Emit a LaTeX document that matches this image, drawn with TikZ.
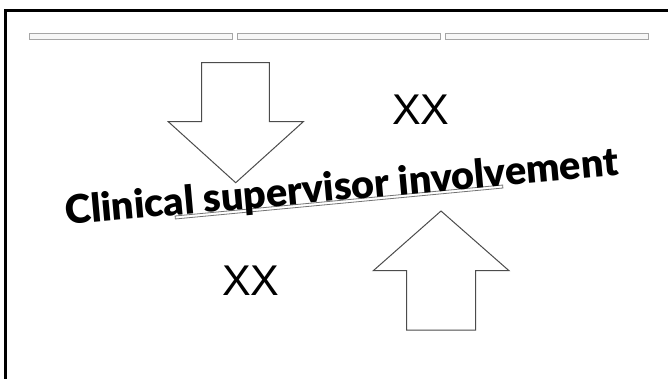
\documentclass[tikz,border=0pt]{standalone}
\usepackage{fontspec}
\setmainfont{Liberation Sans}
\newfontfamily\headfont{Lato}[BoldFont={Lato Black}]
\usepackage{tikz}
\usetikzlibrary{positioning}

\begin{document}
\begin{tikzpicture}[
    x=1pt, y=-1pt,
    bar/.style={rectangle, draw=black!35, fill=black!3, line width=0.8pt, minimum width=203pt, minimum height=6pt, inner sep=0pt},
    bigarrow/.style={draw=black!70, line width=1pt, fill=white, line join=miter},
    xxmark/.style={font=\fontsize{43}{43}\selectfont, inner sep=0pt, anchor=base west},
]
\useasboundingbox (0,0) rectangle (668,379);
\clip (0,0) rectangle (668,379);
\fill[white] (0,0) rectangle (668,379);
\draw[line width=3pt] (5.5,10.5) rectangle (700,400);
% header bars
\node[bar] (bar1) at (130.7,36.5) {};
\node[bar, right=4.5pt of bar1] (bar2) {};
\node[bar, right=4.5pt of bar2] (bar3) {};
% arrows
\draw[bigarrow] (201.7,62.7) -- (269.3,62.7) -- (269.3,121.7) -- (303.3,121.7)
    -- (235.7,182.7) -- (168.3,121.7) -- (201.7,121.7) -- cycle;
\draw[bigarrow] (406.7,330) -- (475.7,330) -- (475.7,270.7) -- (509,270.7)
    -- (441,211) -- (373.3,270.7) -- (406.7,270.7) -- cycle;
% labels
\node[xxmark] (xxtop) at (392,125) {XX};
\node[xxmark] (xxbot) at (222,295) {XX};
\node[draw=black!55, line width=0.8pt, fill=white, minimum width=329pt, minimum height=3pt,
    inner sep=0pt, rotate=5.4] (strip) at (339,202) {};
\node[font=\headfont\bfseries\fontsize{39.5}{39.5}\selectfont, inner sep=0pt, anchor=base west,
    rotate=5.1] (title) at (66,225) {Clinical supervisor involvement};
\end{tikzpicture}
\end{document}
